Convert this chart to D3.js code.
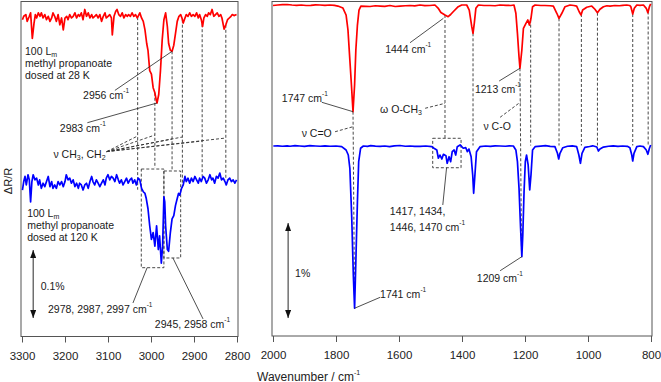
<!DOCTYPE html>
<html>
<head>
<meta charset="utf-8">
<title>Methyl propanoate RAIRS</title>
<script src="https://d3js.org/d3.v7.min.js"></script>
<style>
  body { margin: 0; background: #fff; }
  svg { display: block; font-family: "Liberation Sans", Arial, sans-serif; }
  .frame { fill: none; stroke: #555; stroke-width: 1; }
  .axis line { stroke: #555; }
  .axis text { font-size: 11.5px; fill: #222; }
  .trace { fill: none; stroke-width: 1.7; stroke-linejoin: round; }
  .dash { stroke: #333; stroke-width: 0.9; stroke-dasharray: 3,2; fill: none; }
  .leader { stroke: #222; stroke-width: 0.8; }
  .note { font-size: 10.5px; fill: #1a1a1a; }
</style>
</head>
<body>
<div id="chart"></div>
<script>
// tick values (wavenumber, cm-1)
const leftTicks = [3300, 3200, 3100, 3000, 2900, 2800];
const rightTicks = [2000, 1800, 1600, 1400, 1200, 1000, 800];

// spectra: [wavenumber, dR/R in units of 1e-5 (0.001 %)]
const red28CH = [
  [3299,-5],[3296,0],[3291,2.5],[3288,-7.5],[3283,0],[3280,5],[3276,-32.5],[3272,-10],[3269,2.5],[3266,-2.5],
  [3262,5],[3258,0],[3255,5],[3251,-2.5],[3247,2.5],[3243,-5],[3239,0],[3235,-7.5],[3231,-2.5],[3228,5],
  [3224,0],[3220,-7.5],[3216,2.5],[3212,-12.5],[3208,-2.5],[3204,-20],[3200,-2.5],[3196,0],[3193,-5],[3189,2.5],
  [3185,-2.5],[3181,0],[3177,5],[3173,-2.5],[3169,2.5],[3166,0],[3162,5],[3158,-5],[3154,10],[3150,0],
  [3146,5],[3142,-2.5],[3138,2.5],[3135,-2.5],[3131,0],[3127,2.5],[3123,-2.5],[3119,2.5],[3115,-7.5],[3111,0],
  [3107,5],[3104,-2.5],[3100,0],[3096,2.5],[3092,-2.5],[3090,-27.5],[3086,0],[3082,7.5],[3079,10],[3075,2.5],
  [3071,0],[3067,5],[3063,-2.5],[3059,2.5],[3055,0],[3052,2.5],[3048,0],[3044,5],[3040,0],[3036,2.5],
  [3032,-2.5],[3030,0],[3026,5],[3022,-2.5],[3018,-7.5],[3014,-20],[3010,-40],[3007,-50],[3003,-80],[2999,-85],
  [2995,-105],[2991,-112.5],[2988,-122.5],[2986,-127.5],[2982,-115],[2978,-80],[2974,-35],[2970,-5],[2966,5],[2962,-15],
  [2959,-40],[2955,-50],[2951,-51.5],[2947,-42.5],[2943,-25],[2939,-7.5],[2935,0],[2931,2.5],[2928,-2.5],[2925,-10],
  [2921,-2.5],[2918,2.5],[2914,0],[2910,5],[2906,0],[2902,2.5],[2898,0],[2894,5],[2890,-2.5],[2887,2.5],
  [2883,-5],[2880,-15],[2877,-2.5],[2873,2.5],[2869,0],[2866,5],[2862,2.5],[2858,10],[2854,0],[2850,2.5],
  [2846,5],[2842,0],[2838,2.5],[2835,-2.5],[2830,-19],[2826,-12.5],[2822,-5],[2818,-2.5],[2814,0],[2811,2.5],
  [2807,1],[2801,2.5]
];
const blue120CH = [
  [3299,-12.5],[3296,0],[3293,7.5],[3290,-5],[3286,10],[3283,2.5],[3280,-30],[3277,0],[3274,10],[3270,2.5],
  [3266,5],[3262,-5],[3259,2.5],[3255,-10],[3251,-2.5],[3247,-7.5],[3243,0],[3239,7.5],[3235,-7.5],[3231,0],
  [3228,-10],[3224,-5],[3220,-10],[3216,0],[3212,-5],[3208,0],[3204,-7.5],[3200,0],[3197,10],[3193,2.5],
  [3189,5],[3185,-2.5],[3181,2.5],[3177,-7.5],[3173,-2.5],[3169,-10],[3166,-2.5],[3162,-5],[3158,-12.5],[3154,-5],
  [3150,-2.5],[3146,-10],[3142,0],[3138,7.5],[3135,0],[3131,-5],[3127,2.5],[3123,-2.5],[3119,-7.5],[3115,-2.5],
  [3111,2.5],[3107,-5],[3104,5],[3100,10],[3096,2.5],[3092,7.5],[3088,5],[3084,0],[3080,10],[3076,2.5],
  [3073,-2.5],[3069,2.5],[3065,-5],[3061,0],[3057,5],[3053,-2.5],[3049,2.5],[3045,5],[3042,-2.5],[3038,2.5],
  [3034,-5],[3030,5],[3026,2.5],[3022,-10],[3018,-15],[3014,-17.5],[3011,-25],[3007,-40],[3003,-65],[2999,-85],
  [2995,-75],[2991,-95],[2987,-65],[2983,-100],[2980,-80],[2976,-120],[2973,-95],[2970,-22.5],[2968,-30],[2966,-65],
  [2962,-100],[2959,-102.5],[2955,-75],[2951,-55],[2947,-50],[2943,-35],[2939,-25],[2936,-17.5],[2933,-20],[2929,-10],
  [2925,-5],[2921,7.5],[2918,0],[2914,5],[2910,-2.5],[2906,5],[2902,0],[2898,7.5],[2894,2.5],[2890,-2.5],
  [2887,5],[2883,0],[2879,7.5],[2875,5],[2871,-2.5],[2867,2.5],[2863,10],[2859,2.5],[2856,5],[2852,-2.5],
  [2848,7.5],[2844,5],[2840,12.5],[2836,2.5],[2832,5],[2828,0],[2825,-5],[2821,2.5],[2817,5],[2813,0],
  [2809,2.5],[2805,-2.5],[2801,2.5]
];
const red28Fp = [
  [2000,-5],[1985,0],[1970,3],[1955,5],[1940,0],[1925,-3],[1910,0],[1895,-5],[1880,-3],[1865,2],
  [1851,0],[1835,-3],[1819,0],[1805,-4],[1794,-11],[1778,-32],[1768,-105],[1762,-263],[1756,-579],[1751,-842],
  [1746,-1123],[1741,-842],[1737,-474],[1732,-211],[1727,-53],[1721,-11],[1705,-14],[1692,-16],[1675,-8],[1660,-11],
  [1645,-14],[1629,-5],[1612,-16],[1597,-11],[1580,-8],[1565,-5],[1550,-10],[1533,0],[1518,-6],[1502,-5],
  [1486,0],[1476,-32],[1467,-79],[1454,-105],[1444,-123],[1436,-100],[1428,-71],[1412,-18],[1401,0],[1385,0],
  [1377,-53],[1369,-228],[1365,-298],[1361,-193],[1356,-35],[1348,0],[1330,-5],[1311,-5],[1295,-8],[1279,0],
  [1260,-3],[1245,-5],[1235,0],[1229,-87],[1224,-298],[1219,-544],[1216,-666],[1210,-474],[1205,-245],[1197,-193],
  [1191,-158],[1186,-211],[1181,-140],[1176,-18],[1168,0],[1150,-5],[1137,-5],[1120,-8],[1110,-11],[1099,-87],
  [1092,-140],[1083,-87],[1073,-18],[1057,0],[1045,-5],[1036,-11],[1028,-71],[1022,-105],[1017,-53],[1004,-24],
  [988,-11],[978,-45],[970,-81],[962,-45],[951,-18],[940,-8],[930,-11],[915,-5],[900,-8],[890,-3],
  [877,0],[868,-5],[864,-18],[858,-95],[853,-35],[845,0],[835,-3],[824,0],[815,-35],[810,-81],
  [805,-18],[801,11]
];
const blue120Fp = [
  [1999,0],[1985,2],[1970,-3],[1955,2],[1946,-3],[1930,3],[1915,0],[1900,-4],[1883,3],[1865,0],
  [1850,-3],[1835,2],[1819,-3],[1800,0],[1782,-7],[1768,-42],[1761,-95],[1756,-235],[1750,-758],[1745,-1358],
  [1741,-1708],[1737,-1218],[1732,-586],[1728,-165],[1722,-24],[1713,0],[1700,-4],[1690,3],[1675,-2],[1660,-5],
  [1645,0],[1630,-6],[1615,2],[1597,5],[1580,-3],[1565,0],[1550,-4],[1533,-5],[1515,0],[1496,-7],
  [1489,-24],[1480,-42],[1475,-129],[1470,-95],[1464,-137],[1459,-87],[1451,-102],[1447,-182],[1441,-113],[1436,-165],
  [1431,-60],[1425,-42],[1420,-95],[1415,-7],[1406,11],[1396,-24],[1388,-18],[1383,-60],[1378,-32],[1371,-113],
  [1366,-305],[1363,-498],[1359,-305],[1354,-60],[1343,-7],[1325,0],[1310,-4],[1295,2],[1279,0],[1262,-3],
  [1250,2],[1237,0],[1229,-42],[1224,-165],[1219,-445],[1214,-866],[1210,-1165],[1207,-937],[1203,-481],[1199,-165],
  [1195,-95],[1190,-200],[1185,-463],[1181,-305],[1176,-42],[1168,-7],[1150,-2],[1135,3],[1120,-4],[1105,-7],
  [1097,-77],[1093,-137],[1089,-77],[1080,-18],[1065,-3],[1050,2],[1036,-7],[1029,-95],[1024,-182],[1019,-77],
  [1010,-14],[995,-5],[985,2],[972,-11],[967,-53],[962,-32],[951,-11],[935,-3],[920,2],[905,-5],
  [890,0],[875,-4],[867,-18],[861,-95],[858,-158],[854,-77],[845,-7],[835,0],[824,-7],[815,-42],
  [810,-87],[805,-24],[801,11]
];

// vertical offsets of the 120 K traces (same units)
const blueOffsetCH = -243;
const blueOffsetFp = -1484;

// correlated bands: [wavenumber, end of dashed line relative to 120 K baseline]
const bandsCH = [[3031,-12],[2991,20],[2951,15.5],[2927,-12],[2881,7],[2826,2.3]];
const fanCH = [-176,-174.6,-180.4,-177.5,-183.4,-179];
const bandsFp = [1746, 1454, 1365, 1216, 1182, 1092, 1021, 970, 858, 809];

const RED = '#ff0000', BLUE = '#0000ff';
const W = 661, H = 382;

const svg = d3.select('#chart').append('svg').attr('width', W).attr('height', H);

const defs = svg.append('defs');
defs.append('marker')
  .attr('id', 'arr')
  .attr('viewBox', '0 -3 8 6')
  .attr('refX', 8).attr('refY', 0)
  .attr('markerUnits', 'userSpaceOnUse')
  .attr('markerWidth', 8).attr('markerHeight', 6)
  .attr('orient', 'auto-start-reverse')
  .append('path').attr('d', 'M0,-3 L8,0 L0,3 Z').attr('fill', '#111');

const xL = d3.scaleLinear().domain([3300, 2800]).range([22, 237]);
const yL = d3.scaleLinear().domain([-471.6, 21]).range([337, 2]);
const xR = d3.scaleLinear().domain([2000, 800]).range([273, 651]);
const yR = d3.scaleLinear().domain([-3484, 31.6]).range([336, 2]);

function valAt(data, wn) {
  for (let i = 0; i < data.length - 1; i++) {
    const a = data[i], b = data[i + 1];
    if (wn <= a[0] && wn >= b[0]) return a[1] + (b[1] - a[1]) * (a[0] - wn) / (a[0] - b[0]);
  }
  return 0;
}

function rich(g, x, y, parts, color) {
  const t = g.append('text').attr('class', 'note').attr('x', x).attr('y', y);
  if (color) t.attr('fill', color);
  let cur = 0;
  parts.forEach(p => {
    const s = Array.isArray(p) ? p[0] : p;
    const k = Array.isArray(p) ? p[1] : '';
    const target = k === 'sup' ? -6 : k === 'sub' ? 1.8 : 0;
    const ts = t.append('tspan').attr('dy', target - cur).text(s);
    if (k) ts.attr('font-size', k === 'sup' ? 6.5 : 7);
    cur = target;
  });
  return t;
}
const CM = [' cm', ['-1', 'sup']];

function leader(g, x1, y1, x2, y2, cls) {
  g.append('line').attr('class', cls || 'leader')
    .attr('x1', x1).attr('y1', y1).attr('x2', x2).attr('y2', y2);
}

function trace(g, data, x, y, off, color) {
  g.append('path').datum(data)
    .attr('class', 'trace').attr('stroke', color)
    .attr('d', d3.line().x(d => x(d[0])).y(d => y(d[1] + off)));
}

// ---------- left panel: C-H stretch region ----------
const gL = svg.append('g');
gL.append('rect').attr('class', 'frame').attr('x', 21).attr('y', 1.5).attr('width', 217).attr('height', 335);

gL.append('g').attr('class', 'axis').attr('transform', 'translate(0,336.5)')
  .call(d3.axisBottom(xL).tickValues(leftTicks).tickSize(6).tickPadding(9).tickFormat(d3.format('d')))
  .call(g => g.select('.domain').remove())
  .call(g => g.selectAll('text').attr('font-family', null));

// dashed band correlations
bandsCH.forEach(([wn, end], i) => {
  gL.append('line').attr('class', 'dash')
    .attr('x1', xL(wn)).attr('y1', yL(valAt(red28CH, wn)))
    .attr('x2', xL(wn)).attr('y2', yL(blueOffsetCH + end));
  leader(gL, xL(3103), yL(-199), xL(wn), yL(fanCH[i]), 'dash');
});
gL.append('rect').attr('class', 'dash')
  .attr('x', xL(3022.6)).attr('y', yL(-224.6))
  .attr('width', xL(2970) - xL(3022.6)).attr('height', yL(-369.7) - yL(-224.6));
gL.append('rect').attr('class', 'dash')
  .attr('x', xL(2970)).attr('y', yL(-227.5))
  .attr('width', xL(2931) - xL(2970)).attr('height', yL(-355.4) - yL(-227.5));

trace(gL, red28CH, xL, yL, 0, RED);
trace(gL, blue120CH, xL, yL, blueOffsetCH, BLUE);

rich(gL, xL(3293), yL(-57), ['100 L', ['m', 'sub']], RED);
rich(gL, xL(3293), yL(-57) + 12.3, ['methyl propanoate'], RED);
rich(gL, xL(3293), yL(-57) + 24.3, ['dosed at 28 K'], RED);
rich(gL, xL(3288), yL(-295), ['100 L', ['m', 'sub']], BLUE);
rich(gL, xL(3288), yL(-295) + 12.3, ['methyl propanoate'], BLUE);
rich(gL, xL(3288), yL(-295) + 24.3, ['dosed at 120 K'], BLUE);

rich(gL, xL(3158), yL(-121.6), ['2956', ...CM]);
leader(gL, xL(3084), yL(-109), xL(2951), yL(valAt(red28CH, 2951)));
rich(gL, xL(3212), yL(-170.6), ['2983', ...CM]);
leader(gL, xL(3148), yL(-156.5), xL(2986), yL(valAt(red28CH, 2986)));
rich(gL, xL(3227), yL(-208.4), ['\u03bd CH', ['3', 'sub'], ', CH', ['2', 'sub']]);

rich(gL, xL(3239.5), yL(-436.3), ['2978, 2987, 2997', ...CM]);
leader(gL, xL(3042), yL(-421.6), xL(3009), yL(-369.7));
rich(gL, xL(2991), yL(-458.4), ['2945, 2958', ...CM]);
leader(gL, xL(2879), yL(-445), xL(2949), yL(-355.4));

gL.append('line').attr('stroke', '#111').attr('stroke-width', 0.9)
  .attr('x1', xL(3274)).attr('y1', yL(-343.7)).attr('x2', xL(3274)).attr('y2', yL(-443.7))
  .attr('marker-start', 'url(#arr)').attr('marker-end', 'url(#arr)');
rich(gL, xL(3256.5), yL(-402.5), ['0.1%']);

svg.append('text').attr('transform', 'translate(12,181) rotate(-90)')
  .attr('text-anchor', 'middle').attr('font-size', 11).attr('fill', '#222')
  .text('\u0394R/R');

// ---------- right panel: fingerprint region ----------
const gR = svg.append('g');
gR.append('rect').attr('class', 'frame').attr('x', 272).attr('y', 1.5).attr('width', 380).attr('height', 334.5);

gR.append('g').attr('class', 'axis').attr('transform', 'translate(0,336)')
  .call(d3.axisBottom(xR).tickValues(rightTicks).tickSize(6).tickPadding(9).tickFormat(d3.format('d')))
  .call(g => g.select('.domain').remove())
  .call(g => g.selectAll('text').attr('font-family', null));

bandsFp.forEach(wn => {
  let end = blueOffsetFp + 5;
  if (wn === 1746) end = blueOffsetFp + valAt(blue120Fp, 1741);
  if (wn === 1216) end = blueOffsetFp + valAt(blue120Fp, 1210);
  if (wn === 1454) end = -1403;
  const x2 = wn === 1746 ? xR(1741) : wn === 1216 ? xR(1211) : xR(wn);
  gR.append('line').attr('class', 'dash')
    .attr('x1', xR(wn)).attr('y1', yR(valAt(red28Fp, wn)))
    .attr('x2', x2).attr('y2', yR(end));
});
gR.append('rect').attr('class', 'dash')
  .attr('x', xR(1493)).attr('y', yR(-1403))
  .attr('width', xR(1403) - xR(1493)).attr('height', yR(-1713) - yR(-1403));

trace(gR, red28Fp, xR, yR, 0, RED);
trace(gR, blue120Fp, xR, yR, blueOffsetFp, BLUE);

rich(gR, xR(1972), yR(-1018), ['1747', ...CM]);
leader(gR, xR(1845), yR(-1024), xR(1746), yR(valAt(red28Fp, 1746)));
rich(gR, xR(1909), yR(-1386), ['\u03bd C=O']);
leader(gR, xR(1803), yR(-1334), xR(1746), yR(-1281), 'dash');
rich(gR, xR(1644), yR(-505), ['1444', ...CM]);
leader(gR, xR(1565), yR(-397), xR(1459), yR(-140));
rich(gR, xR(1660), yR(-1140), ['\u03c9 O-CH', ['3', 'sub']]);
leader(gR, xR(1517), yR(-1087), xR(1454), yR(-1035), 'dash');
rich(gR, xR(1359), yR(-929), ['1213', ...CM]);
leader(gR, xR(1282), yR(-800), xR(1216), yR(valAt(red28Fp, 1216)));
rich(gR, xR(1332), yR(-1316), ['\u03bd C-O']);
leader(gR, xR(1279), yR(-1182), xR(1213), yR(-1018), 'dash');

rich(gR, xR(1629), yR(-2211), ['1417, 1434,']);
rich(gR, xR(1629), yR(-2211) + 15.7, ['1446, 1470', ...CM]);
leader(gR, xR(1449), yR(-1713), xR(1461), yR(-2105));
rich(gR, xR(1660), yR(-3084), ['1741', ...CM]);
leader(gR, xR(1660), yR(-3077), xR(1741), yR(blueOffsetFp + valAt(blue120Fp, 1741)));
rich(gR, xR(1353), yR(-2913), ['1209', ...CM]);
leader(gR, xR(1279), yR(-2797), xR(1210), yR(blueOffsetFp + valAt(blue120Fp, 1210)));

gR.append('line').attr('stroke', '#111').attr('stroke-width', 0.9)
  .attr('x1', xR(1952)).attr('y1', yR(-2295)).attr('x2', xR(1952)).attr('y2', yR(-3295))
  .attr('marker-start', 'url(#arr)').attr('marker-end', 'url(#arr)');
rich(gR, xR(1930), yR(-2866), ['1%']);

const title = svg.append('text').attr('x', 257).attr('y', 380.5)
  .attr('font-size', 12).attr('fill', '#222');
title.append('tspan').text('Wavenumber / cm');
title.append('tspan').attr('dy', -6).attr('font-size', 7).text('-1');
</script>
</body>
</html>
